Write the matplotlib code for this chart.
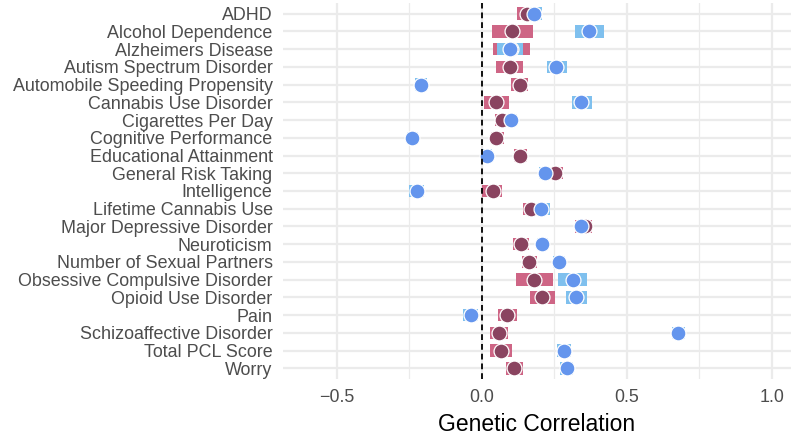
import numpy as np
import matplotlib.pyplot as plt
from matplotlib.ticker import MultipleLocator

plt.rcParams['font.family'] = ['Liberation Sans', 'DejaVu Sans']

# Traits (top to bottom)
traits = ['ADHD', 'Alcohol Dependence', 'Alzheimers Disease', 'Autism Spectrum Disorder',
          'Automobile Speeding Propensity', 'Cannabis Use Disorder', 'Cigarettes Per Day',
          'Cognitive Performance', 'Educational Attainment', 'General Risk Taking',
          'Intelligence', 'Lifetime Cannabis Use', 'Major Depressive Disorder',
          'Neuroticism', 'Number of Sexual Partners', 'Obsessive Compulsive Disorder',
          'Opioid Use Disorder', 'Pain', 'Schizoaffective Disorder', 'Total PCL Score', 'Worry']

# Series A (maroon points, pink intervals)
rg_a = [0.155, 0.105, 0.10, 0.097, 0.130, 0.049, 0.070, 0.050, 0.131, 0.252, 0.037,
        0.169, 0.355, 0.134, 0.162, 0.180, 0.208, 0.086, 0.059, 0.066, 0.111]
lo_a = [0.120, 0.034, 0.037, 0.048, 0.101, 0.007, 0.045, 0.030, 0.111, 0.237, 0.002,
        0.140, 0.321, 0.108, 0.137, 0.117, 0.166, 0.054, 0.029, 0.028, 0.083]
hi_a = [0.165, 0.175, 0.166, 0.142, 0.158, 0.092, 0.107, 0.076, 0.154, 0.280, 0.071,
        0.194, 0.378, 0.162, 0.191, 0.246, 0.252, 0.120, 0.089, 0.105, 0.142]

# Series B (blue points, light blue intervals)
rg_b = [0.180, 0.370, 0.097, 0.257, -0.211, 0.343, 0.100, -0.240, 0.017, 0.216, -0.225,
        0.205, 0.341, 0.208, 0.266, 0.313, 0.324, -0.039, 0.678, 0.282, 0.292]
lo_b = [0.158, 0.321, 0.053, 0.223, -0.231, 0.311, 0.085, -0.259, 0.000, 0.198, -0.250,
        0.179, 0.330, 0.191, 0.246, 0.263, 0.290, -0.064, 0.656, 0.260, 0.271]
hi_b = [0.208, 0.422, 0.142, 0.294, -0.189, 0.378, 0.122, -0.221, 0.034, 0.234, -0.198,
        0.234, 0.360, 0.229, 0.286, 0.364, 0.361, -0.013, 0.702, 0.306, 0.313]

y = np.arange(len(traits))
lo_a, hi_a, lo_b, hi_b = map(np.array, (lo_a, hi_a, lo_b, hi_b))

fig = plt.figure(figsize=(7.91, 4.37), dpi=100)
ax = fig.add_axes([283 / 791, 1 - 379 / 437, 1 - 283 / 791, 376 / 437])

ax.barh(y, hi_a - lo_a, left=lo_a, height=0.7, color='#CE6585', zorder=2)
ax.barh(y, hi_b - lo_b, left=lo_b, height=0.7, color='#7FC0EE', zorder=3)
ax.scatter(rg_a, y, s=115, color='#8A4460', edgecolor='white', linewidth=0.9, zorder=4)
ax.scatter(rg_b, y, s=115, color='#6495ED', edgecolor='white', linewidth=0.9, zorder=5)

ax.axvline(0, color='black', linestyle=(0, (3.2, 2.2)), linewidth=1.3, zorder=6)

ax.set_xlim(-0.686, 1.066)
ax.set_ylim(len(traits) - 0.4, -0.6)
ax.set_yticks(y)
ax.set_yticklabels(traits)
ax.xaxis.set_major_locator(MultipleLocator(0.5))
ax.xaxis.set_minor_locator(MultipleLocator(0.25))
ax.set_xticks([-0.5, 0.0, 0.5, 1.0])
ax.set_xticklabels(['\u22120.5', '0.0', '0.5', '1.0'])

ax.grid(True, which='major', color='#EBEBEB', linewidth=1.6, zorder=0)
ax.grid(True, which='minor', axis='x', color='#EBEBEB', linewidth=0.9, zorder=0)
ax.set_axisbelow(True)
for s in ax.spines.values():
    s.set_visible(False)
ax.tick_params(axis='both', which='both', length=0, labelsize=12.9, colors='#4D4D4D')
ax.tick_params(axis='y', pad=7.5)
ax.tick_params(axis='x', pad=7)

ax.set_xlabel('Genetic Correlation', fontsize=16.5, color='black', labelpad=5)

fig.savefig('out.png', dpi=100)
